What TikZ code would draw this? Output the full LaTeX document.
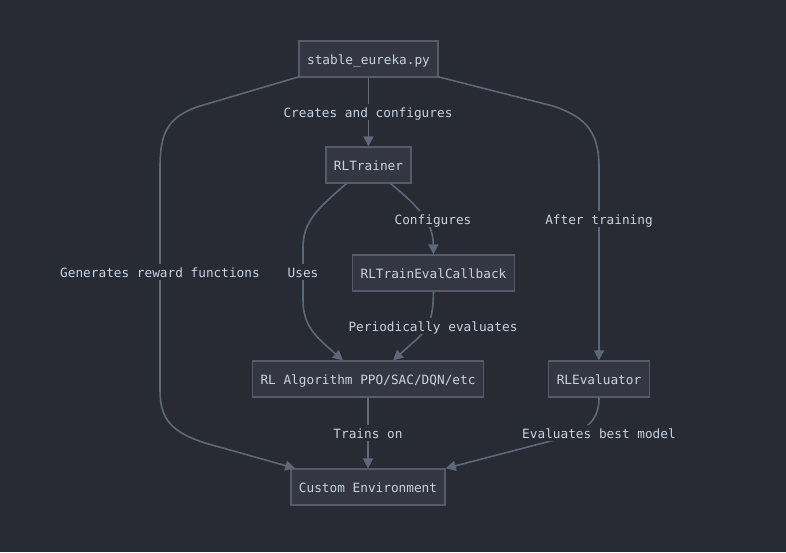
\documentclass[tikz,border=0pt]{standalone}
\usepackage{fontspec}
\setmonofont{DejaVu Sans Mono}
\usetikzlibrary{arrows.meta,calc}

\definecolor{canvas}{HTML}{282B33}
\definecolor{boxfill}{HTML}{343741}
\definecolor{boxline}{HTML}{565B69}
\definecolor{wire}{HTML}{5F677A}
\definecolor{ink}{HTML}{C8D3E2}

\tikzset{
  box/.style={draw=boxline, line width=1.3pt, fill=boxfill, text=ink,
    font=\ttfamily\fontsize{12.75}{15}\selectfont,
    text height=12.5pt, text depth=2pt,
    inner xsep=8pt, inner ysep=0pt, minimum height=36pt},
  wirelabel/.style={fill=canvas, text=ink, inner sep=1pt,
    text height=12.5pt, text depth=2pt,
    font=\ttfamily\fontsize{12.75}{15}\selectfont},
  flow/.style={draw=wire, line width=1.6pt,
    -{Triangle[length=10pt,width=10pt]}},
}

\begin{document}
\begin{tikzpicture}[x=1pt,y=-1pt]
  \fill[canvas] (0,0) rectangle (786,552);
  \useasboundingbox (0,0) rectangle (786,552);

  % components
  \node[box] (s) at (368.5,59)  {stable\_eureka.py};
  \node[box] (t) at (368.5,165) {RLTrainer};
  \node[box] (c) at (433.5,273) {RLTrainEvalCallback};
  \node[box] (a) at (368,379)   {RL Algorithm PPO/SAC/DQN/etc};
  \node[box] (r) at (599,379)   {RLEvaluator};
  \node[box] (e) at (368,487)   {Custom Environment};

  % script -> trainer
  \draw[flow] (s.south) -- (t.north);
  \node[wirelabel] (l1) at (368,112) {Creates and configures};

  % script -> environment (left branch)
  \draw[flow] ($(s.south west)+(1,-1)$) -- (200,106)
    .. controls (166,117) and (160,135) .. (160,168)
    -- (160,390)
    .. controls (160,420) and (172,432) .. (205,443)
    -- ($(e.north west)+(5,0)$);
  \node[wirelabel] (l2) at (160,272) {Generates reward functions};

  % script -> evaluator (right branch)
  \draw[flow] ($(s.south east)+(-1,-1)$) -- (553,106)
    .. controls (589,118) and (599,135) .. (599,168)
    -- (r.north);
  \node[wirelabel] (l3) at (599,219) {After training};

  % trainer -> algorithm
  \draw[flow] ($(t.south west)+(21,0)$)
    .. controls (316,210) and (303,222) .. (303,248)
    -- (303,300)
    .. controls (303,326) and (316,337) .. ($(a.north)+(-25,0)$);
  \node[wirelabel] (l4) at (303,272) {Uses};

  % trainer -> callback
  \draw[flow] ($(t.south east)+(-21,0)$)
    .. controls (418,206) and (433,222) .. (c.north);
  \node[wirelabel] (l5) at (433,219) {Configures};

  % callback -> algorithm
  \draw[flow] (c.south)
    .. controls (433,314) and (431,326) .. (417,339)
    -- ($(a.north)+(25,0)$);
  \node[wirelabel] (l6) at (433,326) {Periodically evaluates};

  % algorithm -> environment
  \draw[flow] (a.south) -- (e.north);
  \node[wirelabel] (l7) at (368,433) {Trains on};

  % evaluator -> environment
  \draw[flow] (r.south)
    .. controls (599,416) and (592,426) .. (570,436)
    -- (e.north east);
  \node[wirelabel] (l8) at (599,433) {Evaluates best model};
\end{tikzpicture}
\end{document}
